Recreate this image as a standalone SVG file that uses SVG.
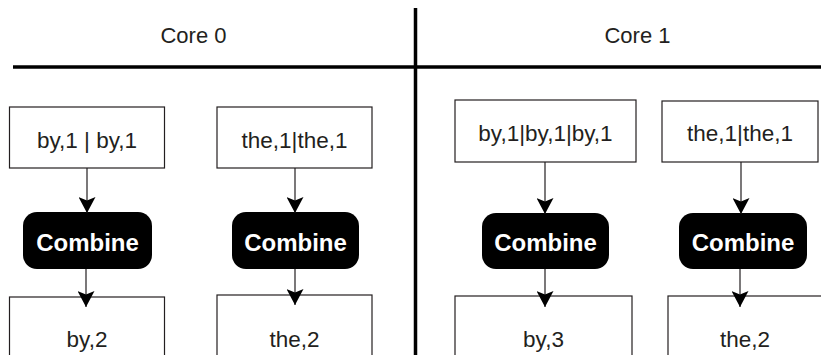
<svg xmlns="http://www.w3.org/2000/svg" width="821" height="355" viewBox="0 0 821 355">
<style>
.box{fill:#fff;stroke:#231f20;stroke-width:1.2}
.comb{fill:#000}
.lbl{font-family:"Liberation Sans",Arial,sans-serif;font-size:22.5px;fill:#231f20;text-anchor:middle}
.ctext{font-family:"Liberation Sans",Arial,sans-serif;font-size:24px;font-weight:bold;fill:#fff;text-anchor:middle}
.hdr{font-family:"Liberation Sans",Arial,sans-serif;font-size:22px;fill:#231f20;text-anchor:middle}
.div{stroke:#000;stroke-width:3.5;fill:none}
.conn{stroke:#231f20;stroke-width:1.2;fill:none;marker-end:url(#ah)}
</style>
<defs>
<marker id="ah" markerUnits="userSpaceOnUse" viewBox="0 0 16 17" markerWidth="16" markerHeight="17" refX="16" refY="8.5" orient="auto">
<path d="M0,0 L16,8.5 L0,17 L3.5,8.5 z" fill="#000"/>
</marker>
</defs>
<rect width="821" height="355" fill="#fff"/>
<g id="dividers">
<line class="div" x1="13" y1="67" x2="821" y2="67"/>
<line class="div" x1="415.5" y1="8" x2="415.5" y2="355"/>
</g>
<g id="header-core0"><text class="hdr" x="193.5" y="43">Core 0</text></g>
<g id="header-core1"><text class="hdr" x="637.5" y="43">Core 1</text></g>

<g id="in-by-0"><rect class="box" x="9.5" y="107" width="155" height="61"/><text class="lbl" x="87" y="148">by,1 | by,1</text></g>
<g id="in-the-0"><rect class="box" x="217" y="107" width="155" height="61"/><text class="lbl" x="294.5" y="148">the,1|the,1</text></g>
<g id="comb-by-0"><rect class="comb" x="23" y="212" width="129" height="57" rx="14"/><text class="ctext" x="87.5" y="251">Combine</text></g>
<g id="comb-the-0"><rect class="comb" x="232" y="212" width="127" height="57" rx="14"/><text class="ctext" x="295.5" y="251">Combine</text></g>
<g id="out-by-0"><rect class="box" x="9.5" y="297" width="155" height="80"/><text class="lbl" x="87" y="347">by,2</text></g>
<g id="out-the-0"><rect class="box" x="217" y="295" width="155" height="80"/><text class="lbl" x="294.5" y="347">the,2</text></g>

<g id="in-by-1"><rect class="box" x="455" y="100" width="181" height="62"/><text class="lbl" x="545.5" y="141">by,1|by,1|by,1</text></g>
<g id="in-the-1"><rect class="box" x="662" y="101" width="156" height="61"/><text class="lbl" x="740" y="141">the,1|the,1</text></g>
<g id="comb-by-1"><rect class="comb" x="482" y="213" width="127" height="56" rx="14"/><text class="ctext" x="545.5" y="251">Combine</text></g>
<g id="comb-the-1"><rect class="comb" x="679" y="213" width="128" height="56" rx="14"/><text class="ctext" x="743" y="251">Combine</text></g>
<g id="out-by-1"><rect class="box" x="455" y="296" width="177" height="80"/><text class="lbl" x="543.5" y="347">by,3</text></g>
<g id="out-the-1"><rect class="box" x="668" y="296" width="170" height="80"/><text class="lbl" x="745" y="347">the,2</text></g>

<g id="connectors">
<line class="conn" x1="87" y1="168" x2="87" y2="213"/>
<line class="conn" x1="86" y1="269" x2="86" y2="307"/>
<line class="conn" x1="295" y1="168" x2="295" y2="213"/>
<line class="conn" x1="295" y1="269" x2="295" y2="305"/>
<line class="conn" x1="545" y1="162" x2="545" y2="214"/>
<line class="conn" x1="545" y1="269" x2="545" y2="307"/>
<line class="conn" x1="741" y1="162" x2="741" y2="214"/>
<line class="conn" x1="740" y1="269" x2="740" y2="307"/>
</g>
</svg>
